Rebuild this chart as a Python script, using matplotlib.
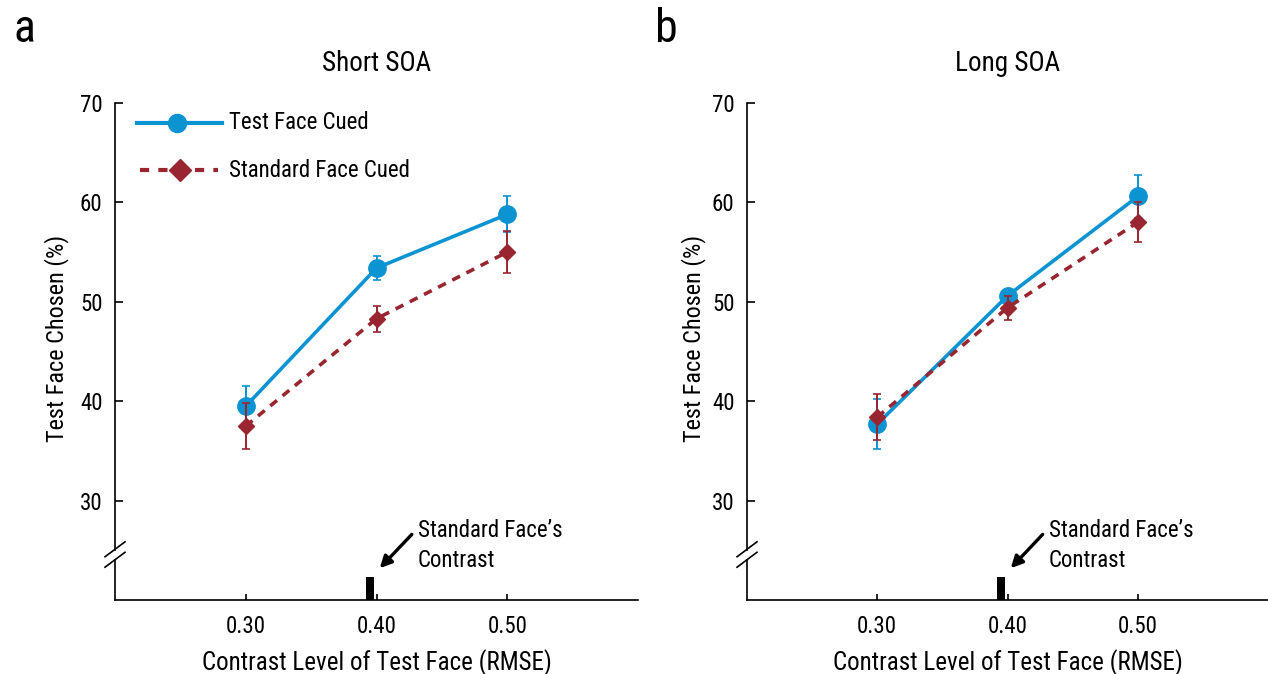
import matplotlib
matplotlib.use("Agg")
import matplotlib.pyplot as plt
from matplotlib import font_manager
from matplotlib.lines import Line2D
import matplotlib.transforms as mtransforms

# ---------------- data ----------------
contrast = [0.30, 0.40, 0.50]
xticklabels = ["0.30", "0.40", "0.50"]
yticks = [30, 40, 50, 60, 70]

short_test = [39.5, 53.4, 58.8]
short_test_err = [2.0, 1.2, 1.8]
short_std = [37.5, 48.3, 55.0]
short_std_err = [2.3, 1.3, 2.1]

long_test = [37.7, 50.6, 60.6]
long_test_err = [2.5, 0.7, 2.2]
long_std = [38.4, 49.4, 58.0]
long_std_err = [2.3, 1.2, 2.0]

standard_contrast = 0.395
standard_bar_top = 22.3

titles = ["Short SOA", "Long SOA"]
panel_letters = ["a", "b"]
series_names = ["Test Face Cued", "Standard Face Cued"]

# ---------------- style ----------------
avail = {f.name for f in font_manager.fontManager.ttflist}
family = "DejaVu Sans"
for cand in ["Liberation Sans Narrow", "Roboto Condensed", "Arial Narrow", "Liberation Sans"]:
    if cand in avail:
        family = cand
        break
plt.rcParams["font.family"] = [family, "DejaVu Sans"]

BLUE = "#0b93d2"
RED = "#982530"

fig = plt.figure(figsize=(12.68, 6.74), dpi=100)
ax_l = fig.add_axes([115 / 1268, 1 - 600 / 674, 523 / 1268, 497 / 674])
ax_r = fig.add_axes([747 / 1268, 1 - 600 / 674, 521 / 1268, 497 / 674])

panels = [
    (ax_l, short_test, short_test_err, short_std, short_std_err),
    (ax_r, long_test, long_test_err, long_std, long_std_err),
]

for i, (ax, t, te, s, se) in enumerate(panels):
    ax.set_xlim(0.2, 0.6)
    ax.set_ylim(20, 70)
    # test face cued
    ax.errorbar(contrast, t, yerr=te, color=BLUE, lw=2.6, marker="o", ms=12.5,
                elinewidth=1.4, capsize=3, capthick=1.2, zorder=3, clip_on=False)
    # standard face cued
    ax.errorbar(contrast, s, yerr=se, color=RED, lw=2.6, ls=(0, (2.4, 2.0)), marker="D", ms=8,
                elinewidth=1.4, capsize=3, capthick=1.2, zorder=4, clip_on=False)

    # spines
    for side in ["top", "right", "left"]:
        ax.spines[side].set_visible(False)
    ax.spines["bottom"].set_linewidth(1.2)
    trans = mtransforms.blended_transform_factory(ax.transAxes, ax.transData)
    ax.add_line(Line2D([0, 0], [25.0, 70], transform=trans, color="black", lw=1.2, clip_on=False))
    ax.add_line(Line2D([0, 0], [20, 24.0], transform=trans, color="black", lw=1.2, clip_on=False))
    # break marks
    for yc in [25.1, 24.05]:
        ax.add_line(Line2D([-0.0191, 0.0191], [yc - 0.75, yc + 0.75], transform=trans,
                           color="black", lw=1.2, clip_on=False))

    ax.set_yticks(yticks)
    ax.set_xticks(contrast)
    ax.set_xticklabels(xticklabels)
    ax.tick_params(axis="y", direction="in", length=6, width=1.2, pad=9, labelsize=16.5)
    ax.tick_params(axis="x", direction="in", length=4, width=1.2, pad=11, labelsize=16.5)
    ax.set_xlabel("Contrast Level of Test Face (RMSE)", fontsize=18, labelpad=8)
    ax.set_ylabel("Test Face Chosen (%)", fontsize=17.5)
    ax.yaxis.set_label_coords(-0.088 if i == 0 else -0.079, 0.527)
    ax.set_title(titles[i], fontsize=19.5, pad=23)

    # standard face's contrast marker
    ax.bar([standard_contrast], [standard_bar_top - 20], bottom=20, width=0.0055,
           color="black", zorder=2)
    ax.annotate("", xy=(0.4025, 23.2), xytext=(0.427, 26.6),
                arrowprops=dict(arrowstyle="-|>,head_length=0.7,head_width=0.35",
                                color="black", lw=2.4, shrinkA=0, shrinkB=0))
    ax.text(0.4315, 26.3, "Standard Face\u2019s", fontsize=16.5, va="baseline", ha="left")
    ax.text(0.4315, 23.3, "Contrast", fontsize=16.5, va="baseline", ha="left")

# panel letters
fig.text(13 / 1268, 1 - 42 / 674, panel_letters[0], fontsize=33, va="baseline")
fig.text(655 / 1268, 1 - 42 / 674, panel_letters[1], fontsize=33, va="baseline")

# legend (left panel)
ax = ax_l
ax.add_line(Line2D([0.042, 0.205], [0.960, 0.960], transform=ax.transAxes, color=BLUE, lw=3,
                   clip_on=False))
ax.add_line(Line2D([0.119], [0.960], transform=ax.transAxes, color=BLUE, marker="o", ms=13,
                   clip_on=False))
ax.add_line(Line2D([0.048, 0.197], [0.865, 0.865], transform=ax.transAxes, color=RED, lw=3,
                   ls=(0, (2.2, 2.2)), clip_on=False))
ax.add_line(Line2D([0.124], [0.865], transform=ax.transAxes, color=RED, marker="D", ms=11,
                   clip_on=False))
ax.text(0.218, 0.960, series_names[0], transform=ax.transAxes, fontsize=16.5, va="center")
ax.text(0.218, 0.865, series_names[1], transform=ax.transAxes, fontsize=16.5, va="center")

fig.savefig("out.png", dpi=100)
